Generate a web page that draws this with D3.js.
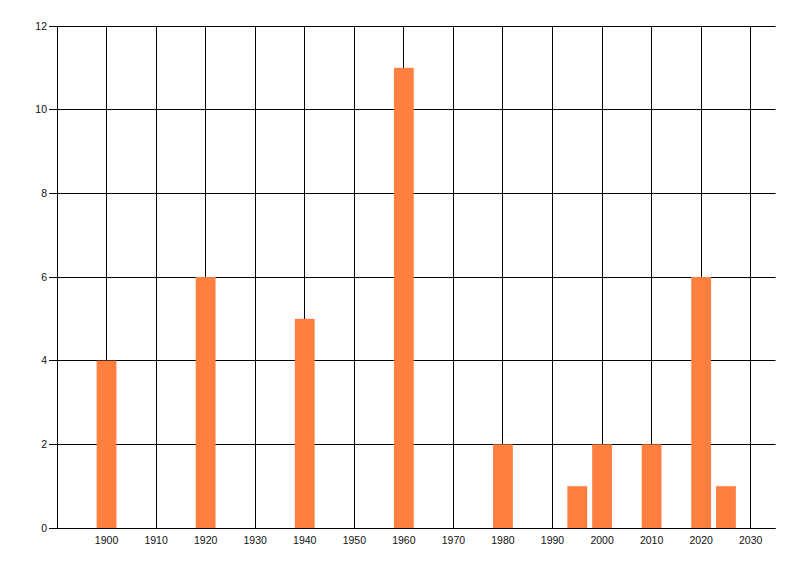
<!DOCTYPE html>
<html><head><meta charset="utf-8">
<script src="https://cdn.jsdelivr.net/npm/d3@7"></script>
<style>body{margin:0;background:#fff;}svg{display:block;}</style>
</head><body>
<script>
const years = [1900, 1920, 1940, 1960, 1980, 1995, 2000, 2010, 2020, 2025];
const counts = [4, 6, 5, 11, 2, 1, 2, 2, 6, 1];
const xTicks = [1900, 1910, 1920, 1930, 1940, 1950, 1960, 1970, 1980, 1990, 2000, 2010, 2020, 2030];
const yTicks = [0, 2, 4, 6, 8, 10, 12];

(function () {
const W = 800, H = 576;
const mLeft = 57, mRight = 775.5, mTop = 26, mBottom = 528;
const svg = d3.select("body").append("svg").attr("width", W).attr("height", H);

const x = d3.scaleLinear().domain([1890, 2035]).range([mLeft, mRight]);
const y = d3.scaleLinear().domain([0, 12]).range([mBottom, mTop]);
const barYears = 4;
const px = v => Math.floor(v) + 0.5;

// vertical grid
svg.append("g").selectAll("line").data(xTicks).join("line")
  .attr("x1", d => px(x(d))).attr("x2", d => px(x(d)))
  .attr("y1", px(mTop)).attr("y2", px(mBottom))
  .attr("stroke", "#000").attr("stroke-width", 1);
// horizontal grid (with tick marks to the left)
svg.append("g").selectAll("line").data(yTicks).join("line")
  .attr("x1", mLeft - 8).attr("x2", mRight)
  .attr("y1", d => px(y(d))).attr("y2", d => px(y(d)))
  .attr("stroke", "#000").attr("stroke-width", 1);
// left axis line
svg.append("line").attr("x1", px(mLeft)).attr("x2", px(mLeft)).attr("y1", px(mTop)).attr("y2", px(mBottom))
  .attr("stroke", "#000");

// bars
svg.append("g").selectAll("rect").data(years).join("rect")
  .attr("x", d => x(d - barYears / 2))
  .attr("width", d => x(d + barYears / 2) - x(d - barYears / 2))
  .attr("y", (d, i) => y(counts[i]))
  .attr("height", (d, i) => y(0) - y(counts[i]))
  .attr("fill", "#ff7f40");

// bottom axis line over bars
svg.append("line").attr("x1", mLeft).attr("x2", mRight)
  .attr("y1", px(mBottom)).attr("y2", px(mBottom)).attr("stroke", "#000");

// x labels
svg.append("g").selectAll("text").data(xTicks).join("text")
  .attr("x", d => x(d)).attr("y", 544)
  .attr("text-anchor", "middle")
  .attr("font-family", "Liberation Sans, Arial, sans-serif").attr("font-size", "10.5px")
  .attr("fill", "#111")
  .text(d => d);
// y labels
svg.append("g").selectAll("text").data(yTicks).join("text")
  .attr("x", 47).attr("y", d => y(d) + 3.8)
  .attr("text-anchor", "end")
  .attr("font-family", "Liberation Sans, Arial, sans-serif").attr("font-size", "10.5px")
  .attr("fill", "#111")
  .text(d => d);
})();
</script>
</body></html>
